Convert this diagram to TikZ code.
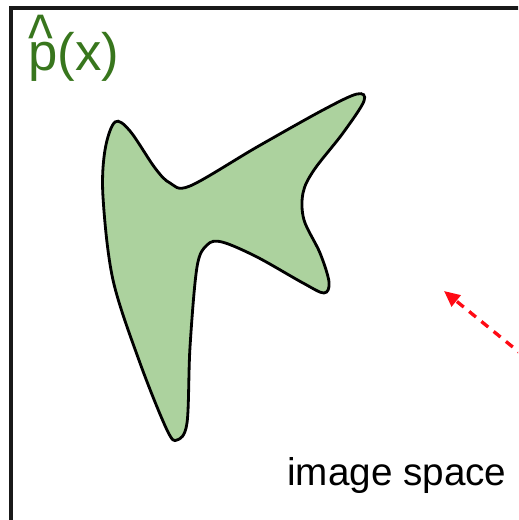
\documentclass[tikz,border=0pt]{standalone}
\usepackage{fontspec}
\setmainfont{Liberation Sans}
\usetikzlibrary{arrows.meta}
\definecolor{blobfill}{RGB}{172,210,158}
\definecolor{labelgreen}{RGB}{56,118,29}
\definecolor{arrowred}{RGB}{255,10,20}
\tikzset{
  frame/.style={draw=black!90, line width=2.2pt},
  blob/.style={draw=black, line width=1.6pt, fill=blobfill},
  glabel/.style={text=labelgreen, font=\fontsize{30}{34}\selectfont, inner sep=0pt, anchor=base west},
  spacelabel/.style={text=black, font=\fontsize{22}{26}\selectfont, inner sep=0pt, anchor=base west},
  redarrow/.style={draw=arrowred, line width=1.9pt, dash pattern=on 5pt off 4pt, -{Triangle[length=9pt,width=8pt]}}
}
\begin{document}
\begin{tikzpicture}[x=0.02cm,y=-0.02cm]
\useasboundingbox (0,0) rectangle (518,520);
\clip (0,0) rectangle (518,520);
\draw[frame] (11,8) rectangle (540,540);
\draw[blob] plot[smooth cycle, tension=0.55] coordinates {
 (115,122) (105,150) (103,197) (113,280) (140,363) (167,430) (177,440)
 (187,423) (190,347) (197,267) (207,245) (222,242) (257,257) (303,283)
 (324,293) (329,282) (320,253) (304,220) (303,193) (314,170) (343,133)
 (364,101) (357,94) (323,110) (257,147) (190,186) (170,183) (155,168) (130,131)};
\node[glabel] (phat) at (28,71) {p(x)};
\node[glabel, anchor=north west, xscale=1.0, yscale=1.25, transform shape] (hat) at (28,15) {\char"5E};
\node[spacelabel] (space) at (287,485) {image space};
\coordinate (arrowstart) at (525,357);
\coordinate (arrowtip) at (444,291);
\draw[redarrow] (arrowstart) -- (arrowtip);
\end{tikzpicture}
\end{document}
